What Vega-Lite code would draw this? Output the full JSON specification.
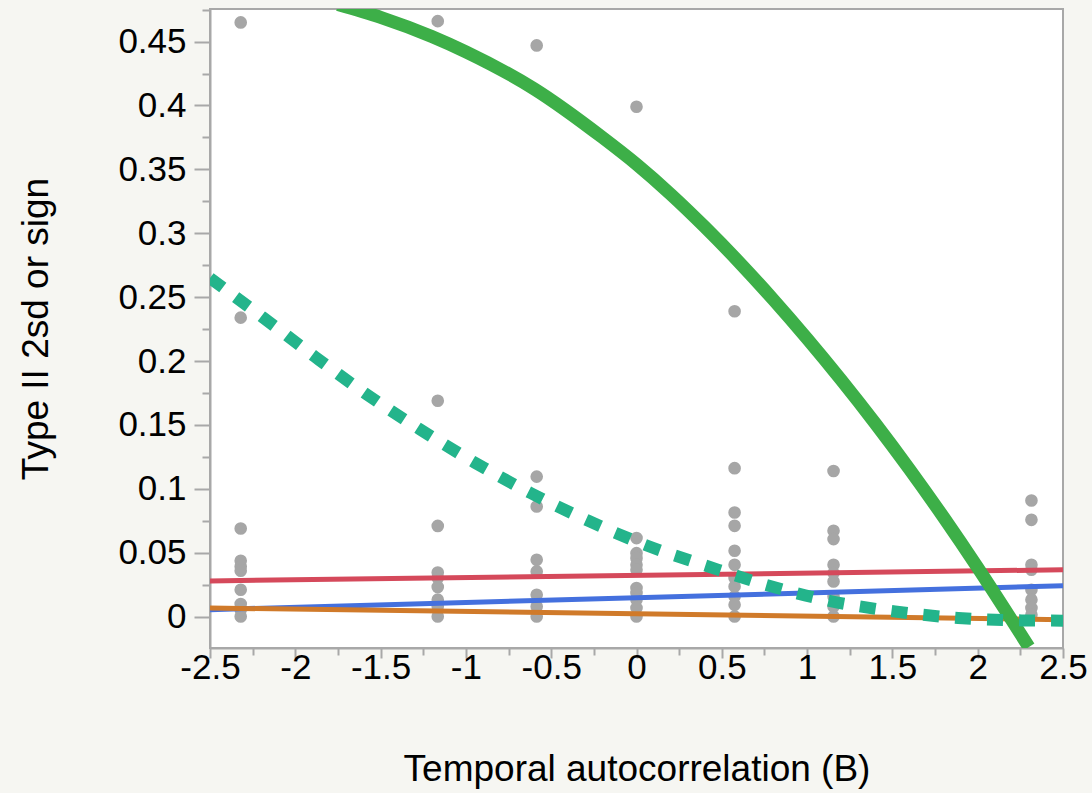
{
  "$schema": "https://vega.github.io/schema/vega-lite/v6.json",
  "width": 853,
  "height": 639,
  "autosize": {"type": "none"},
  "padding": {"left": 210, "top": 9, "right": 29, "bottom": 145},
  "background": "#f6f6f2",
  "config": {
    "view": {"fill": "white", "stroke": "#a8a8a8", "strokeWidth": 2},
    "font": "Liberation Sans",
    "axis": {
      "grid": false,
      "domainColor": "#a8a8a8",
      "domainWidth": 2,
      "tickColor": "#a8a8a8",
      "tickWidth": 2,
      "labelColor": "black",
      "labelFontSize": 35,
      "labelFlush": false,
      "labelOverlap": false,
      "titleColor": "black",
      "titleFontSize": 37,
      "titleFontWeight": "normal"
    }
  },
  "datasets": {
    "pts": [
      {"x": -2.32, "y": 0.465}, {"x": -2.32, "y": 0.234}, {"x": -2.32, "y": 0.069}, {"x": -2.32, "y": 0.0438}, {"x": -2.32, "y": 0.0393}, {"x": -2.32, "y": 0.036}, {"x": -2.32, "y": 0.0211}, {"x": -2.32, "y": 0.0099}, {"x": -2.32, "y": 0.0055}, {"x": -2.32, "y": 0.0002},
      {"x": -1.165, "y": 0.466}, {"x": -1.165, "y": 0.169}, {"x": -1.165, "y": 0.071}, {"x": -1.165, "y": 0.0346}, {"x": -1.165, "y": 0.0302}, {"x": -1.165, "y": 0.0232}, {"x": -1.165, "y": 0.0133}, {"x": -1.165, "y": 0.008}, {"x": -1.165, "y": 0.0002},
      {"x": -0.585, "y": 0.447}, {"x": -0.585, "y": 0.1096}, {"x": -0.585, "y": 0.0862}, {"x": -0.585, "y": 0.0445}, {"x": -0.585, "y": 0.0354}, {"x": -0.585, "y": 0.0172}, {"x": -0.585, "y": 0.008}, {"x": -0.585, "y": 0.0002},
      {"x": 0, "y": 0.399}, {"x": 0, "y": 0.0615}, {"x": 0, "y": 0.0497}, {"x": 0, "y": 0.0458}, {"x": 0, "y": 0.0406}, {"x": 0, "y": 0.0367}, {"x": 0, "y": 0.0224}, {"x": 0, "y": 0.0185}, {"x": 0, "y": 0.0133}, {"x": 0, "y": 0.0068}, {"x": 0, "y": 0.0002},
      {"x": 0.575, "y": 0.239}, {"x": 0.575, "y": 0.1162}, {"x": 0.575, "y": 0.0815}, {"x": 0.575, "y": 0.0711}, {"x": 0.575, "y": 0.0516}, {"x": 0.575, "y": 0.0406}, {"x": 0.575, "y": 0.0302}, {"x": 0.575, "y": 0.0237}, {"x": 0.575, "y": 0.0159}, {"x": 0.575, "y": 0.0094}, {"x": 0.575, "y": 0.0002},
      {"x": 1.155, "y": 0.114}, {"x": 1.155, "y": 0.0672}, {"x": 1.155, "y": 0.0607}, {"x": 1.155, "y": 0.0406}, {"x": 1.155, "y": 0.0341}, {"x": 1.155, "y": 0.0276}, {"x": 1.155, "y": 0.0159}, {"x": 1.155, "y": 0.008}, {"x": 1.155, "y": 0.0002},
      {"x": 2.315, "y": 0.0909}, {"x": 2.315, "y": 0.0758}, {"x": 2.315, "y": 0.0406}, {"x": 2.315, "y": 0.0367}, {"x": 2.315, "y": 0.0211}, {"x": 2.315, "y": 0.0133}, {"x": 2.315, "y": 0.0068}, {"x": 2.315, "y": 0.0016}
    ],
    "lines": [
      {"s": "red", "x": -2.5, "y": 0.028}, {"s": "red", "x": 2.5, "y": 0.0367},
      {"s": "blue", "x": -2.5, "y": 0.0055}, {"s": "blue", "x": 2.5, "y": 0.0242},
      {"s": "orange", "x": -2.5, "y": 0.0068}, {"s": "orange", "x": 2.5, "y": -0.0023},
      {"s": "green", "x": -1.75, "y": 0.479}, {"s": "green", "x": -1.5, "y": 0.469}, {"s": "green", "x": -1.2, "y": 0.454}, {"s": "green", "x": -1.0, "y": 0.442}, {"s": "green", "x": -0.6, "y": 0.413}, {"s": "green", "x": -0.2, "y": 0.375}, {"s": "green", "x": 0, "y": 0.354}, {"s": "green", "x": 0.2, "y": 0.3306}, {"s": "green", "x": 0.4, "y": 0.305}, {"s": "green", "x": 0.6, "y": 0.2776}, {"s": "green", "x": 0.8, "y": 0.2484}, {"s": "green", "x": 1.0, "y": 0.2176}, {"s": "green", "x": 1.2, "y": 0.1852}, {"s": "green", "x": 1.4, "y": 0.1512}, {"s": "green", "x": 1.6, "y": 0.1154}, {"s": "green", "x": 1.8, "y": 0.0778}, {"s": "green", "x": 2.0, "y": 0.0384}, {"s": "green", "x": 2.2, "y": -0.0028}, {"s": "green", "x": 2.3, "y": -0.0238},
      {"s": "teal", "x": -2.5, "y": 0.265}, {"s": "teal", "x": -2.188, "y": 0.234}, {"s": "teal", "x": -1.885, "y": 0.2034}, {"s": "teal", "x": -1.582, "y": 0.174}, {"s": "teal", "x": -1.269, "y": 0.1466}, {"s": "teal", "x": -0.947, "y": 0.1205}, {"s": "teal", "x": -0.618, "y": 0.0966}, {"s": "teal", "x": -0.282, "y": 0.075}, {"s": "teal", "x": 0.06, "y": 0.0557}, {"s": "teal", "x": 0.421, "y": 0.0393}, {"s": "teal", "x": 0.777, "y": 0.0242}, {"s": "teal", "x": 1.144, "y": 0.012}, {"s": "teal", "x": 1.515, "y": 0.0041}, {"s": "teal", "x": 1.886, "y": -0.001}, {"s": "teal", "x": 2.258, "y": -0.0029}, {"s": "teal", "x": 2.5, "y": -0.0031}
    ]
  },
  "encoding": {
    "x": {
      "field": "x", "type": "quantitative",
      "scale": {"domain": [-2.5, 2.5], "nice": false, "zero": false},
      "axis": {
        "title": "Temporal autocorrelation (B)",
        "values": [-2.5, -2.25, -2, -1.75, -1.5, -1.25, -1, -0.75, -0.5, -0.25, 0, 0.25, 0.5, 0.75, 1, 1.25, 1.5, 1.75, 2, 2.25, 2.5],
        "labelExpr": "abs(datum.value*2 - round(datum.value*2)) < 0.01 ? replace(format(datum.value, '.1~f'), '\u2212', '-') : ''",
        "tickSize": {"condition": {"test": "abs(datum.value*2 - round(datum.value*2)) > 0.01", "value": 7}, "value": 10},
        "labelPadding": -8,
        "titlePadding": 66
      }
    },
    "y": {
      "field": "y", "type": "quantitative",
      "scale": {"domain": [-0.0245, 0.4755], "nice": false, "zero": false},
      "axis": {
        "title": "Type II 2sd or sign",
        "values": [-0.025, 0, 0.025, 0.05, 0.075, 0.1, 0.125, 0.15, 0.175, 0.2, 0.225, 0.25, 0.275, 0.3, 0.325, 0.35, 0.375, 0.4, 0.425, 0.45, 0.475],
        "labelExpr": "abs(datum.value*20 - round(datum.value*20)) < 0.01 && datum.value > -0.01 ? format(datum.value, '.2~f') : ''",
        "tickSize": {"condition": {"test": "abs(datum.value*20 - round(datum.value*20)) > 0.01", "value": 8}, "value": 16},
        "labelPadding": 8,
        "titlePadding": 62
      }
    }
  },
  "layer": [
    {"data": {"name": "pts"}, "mark": {"type": "circle", "size": 160, "color": "#a6a6a6", "opacity": 1}},
    {"data": {"name": "lines"}, "transform": [{"filter": "datum.s === 'red'"}], "mark": {"type": "line", "color": "#d5495b", "strokeWidth": 5, "clip": true}},
    {"data": {"name": "lines"}, "transform": [{"filter": "datum.s === 'blue'"}], "mark": {"type": "line", "color": "#4470de", "strokeWidth": 5, "clip": true}},
    {"data": {"name": "lines"}, "transform": [{"filter": "datum.s === 'orange'"}], "mark": {"type": "line", "color": "#d07a2a", "strokeWidth": 5, "clip": true}},
    {"data": {"name": "lines"}, "transform": [{"filter": "datum.s === 'green'"}], "mark": {"type": "line", "color": "#3daf48", "strokeWidth": 13, "interpolate": "monotone", "clip": true}},
    {"data": {"name": "lines"}, "transform": [{"filter": "datum.s === 'teal'"}], "mark": {"type": "line", "color": "#23b48b", "strokeWidth": 12, "strokeDash": [16, 16], "strokeCap": "butt", "interpolate": "monotone", "clip": true}}
  ]
}
